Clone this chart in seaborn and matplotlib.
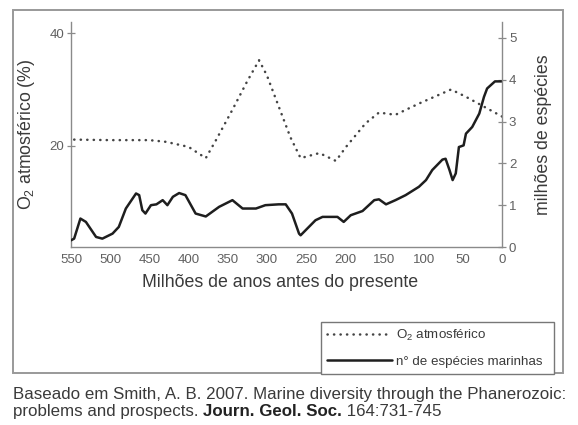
import matplotlib
matplotlib.use("Agg")
import seaborn as sns
from matplotlib import pyplot as plt
from matplotlib.patches import Rectangle

# O2 atmosferico (%) vs idade (Ma)
o2_age = [550, 500, 450, 429, 400, 378, 365, 344, 325, 310, 300, 285, 270, 257,
          233, 212, 199, 174, 157, 136, 106, 65, 46, 0]
o2_pct = [21.1, 21.0, 21.0, 20.7, 19.8, 17.8, 21.0, 26.4, 31.5, 35.2, 32.5, 27.0,
          21.5, 17.8, 18.7, 17.3, 19.8, 24.0, 25.9, 25.5, 27.5, 30.0, 28.7, 25.2]

# milhoes de especies marinhas vs idade (Ma)
sp_age = [550, 546, 538, 531, 518, 510, 497, 489, 480, 467,
          463, 459, 455, 448, 441, 433, 427, 420, 412, 404,
          391, 378, 361, 344, 331, 314, 302, 285, 276, 268,
          259, 257, 238, 229, 210, 202, 193, 178, 163, 157,
          148, 136, 123, 106, 97, 89, 76, 72, 67, 63,
          59, 55, 49, 46, 38, 29, 23, 19, 9, 0]
sp_val = [0.16, 0.2, 0.68, 0.6, 0.24, 0.2, 0.32, 0.48, 0.92, 1.28,
          1.24, 0.88, 0.8, 1.0, 1.02, 1.12, 1.0, 1.2, 1.29, 1.24,
          0.8, 0.73, 0.96, 1.12, 0.92, 0.92, 1.0, 1.02, 1.02, 0.8,
          0.32, 0.28, 0.64, 0.72, 0.72, 0.6, 0.76, 0.86, 1.12, 1.14,
          1.02, 1.12, 1.24, 1.44, 1.6, 1.84, 2.09, 2.11, 1.84, 1.6,
          1.76, 2.39, 2.43, 2.71, 2.87, 3.19, 3.59, 3.79, 3.96, 3.96]

x_ticks = [550, 500, 450, 400, 350, 300, 250, 200, 150, 100, 50, 0]
left_ticks = [20, 40]
right_ticks = [0, 1, 2, 3, 4, 5]

sns.set_style("white")
plt.rcParams["font.family"] = ["Liberation Sans", "DejaVu Sans"]
plt.rcParams["mathtext.fontset"] = "custom"
plt.rcParams["mathtext.rm"] = "Liberation Sans"

TXT = "#3a3a3a"
AX = "#8a8a8a"

fig = plt.figure(figsize=(5.78, 4.25), dpi=100)
W, H = 578, 425
# axes box in pixels: x 71..502, y 22..247
ax = fig.add_axes([71 / W, 1 - 247 / H, (502 - 71) / W, (247 - 22) / H])
ax2 = ax.twinx()

sns.lineplot(x=o2_age, y=o2_pct, ax=ax, color="#444444", linewidth=1.8,
             linestyle=(0, (0.1, 2.5)), dash_capstyle="round", label="O$_2$ atmosférico")
sns.lineplot(x=sp_age, y=sp_val, ax=ax2, color="#1e1e1e", linewidth=1.8,
             label="n° de espécies marinhas")

ax.set_xlim(550, 0)
ax.set_ylim(2.0, 42.0)
ax2.set_ylim(0, 5.38)
ax.set_xticks(x_ticks)
ax.set_yticks(left_ticks)
ax2.set_yticks(right_ticks)

for a in (ax, ax2):
    a.spines["top"].set_visible(False)
    for s in ("left", "right", "bottom"):
        a.spines[s].set_color(AX)
        a.spines[s].set_linewidth(1.0)
    a.tick_params(direction="inout", length=6, width=0.9, color=AX,
                  labelcolor="#606060", labelsize=9.5, pad=2)
ax.spines["right"].set_visible(False)
ax2.spines["left"].set_visible(False)
ax2.spines["bottom"].set_visible(False)

ax.set_xlabel("Milhões de anos antes do presente", fontsize=12.8, color=TXT, labelpad=7)
ax.xaxis.set_label_coords(0.485, -0.12)
ax.set_ylabel("O$_2$ atmosférico (%)", fontsize=12.8, color=TXT, labelpad=9)
ax2.set_ylabel("milhões de espécies", fontsize=12.8, color=TXT, labelpad=13)

# legend in lower right box
h1, l1 = ax.get_legend_handles_labels()
h2, l2 = ax2.get_legend_handles_labels()
ax.get_legend().remove()
ax2.get_legend().remove()
leg = fig.legend(h1 + h2, l1 + l2, loc="lower left",
                 bbox_to_anchor=(321 / W, 1 - 374 / H, (554 - 321) / W, (374 - 322) / H),
                 mode="expand", borderaxespad=0, fontsize=9.6, handlelength=4.9,
                 handletextpad=0.25, labelspacing=0.95, fancybox=False, framealpha=1,
                 edgecolor="#777777", borderpad=0.45)
leg.get_frame().set_linewidth(1.0)
for t in leg.get_texts():
    t.set_color(TXT)

# outer frame
fig.patches.append(Rectangle((13 / W, 1 - 373 / H), (563 - 13) / W, (373 - 10) / H,
                             transform=fig.transFigure, fill=False,
                             edgecolor="#999999", linewidth=1.4, zorder=0))

# caption
fig.text(13 / W, 1 - 394 / H,
         "Baseado em Smith, A. B. 2007. Marine diversity through the Phanerozoic:",
         fontsize=12.2, color=TXT, va="center", ha="left")
t1 = fig.text(13 / W, 1 - 416 / H, "problems and prospects. ",
              fontsize=12.2, color=TXT, va="baseline", ha="left")
t2 = fig.text(0, 0, "Journ. Geol. Soc.", fontsize=12.2, color="#222222",
              fontweight="bold", ha="left", va="baseline")
t3 = fig.text(0, 0, " 164:731-745", fontsize=12.2, color=TXT, ha="left", va="baseline")

# put the bold part and the pages right after the first part
fig.canvas.draw()
r = fig.canvas.get_renderer()
inv = fig.transFigure.inverted()
b1 = t1.get_window_extent(r)
y_base = fig.transFigure.transform(t1.get_position())[1]
t2.set_position(inv.transform((b1.x1, y_base)))
fig.canvas.draw()
b2 = t2.get_window_extent(r)
t3.set_position(inv.transform((b2.x1, y_base)))

fig.savefig("out.png", dpi=100)
